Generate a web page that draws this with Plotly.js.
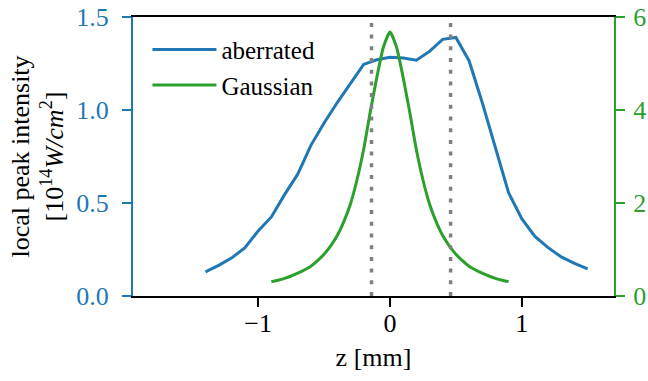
<!DOCTYPE html>
<html>
<head>
<meta charset="utf-8">
<script src="https://cdn.plot.ly/plotly-3.0.1.min.js"></script>
<style>
html,body{margin:0;padding:0;background:#fff;}
#chart{width:648px;height:381px;}
</style>
</head>
<body>
<div id="chart"></div>
<script>
// aberrated beam: local peak intensity [1e14 W/cm^2] (left axis)
const zAberrated = [-1.4,-1.3,-1.2,-1.1,-1.0,-0.9,-0.8,-0.7,-0.6,-0.5,-0.4,-0.3,-0.2,-0.1,0.0,0.1,0.2,0.3,0.4,0.5,0.6,0.7,0.8,0.9,1.0,1.1,1.2,1.3,1.4,1.5];
const iAberrated = [0.13,0.165,0.205,0.26,0.35,0.425,0.545,0.655,0.81,0.93,1.04,1.145,1.245,1.27,1.283,1.28,1.268,1.315,1.38,1.39,1.265,1.04,0.80,0.555,0.416,0.32,0.26,0.21,0.175,0.146];
// Gaussian beam (right axis)
const zGaussian = [-0.9,-0.85,-0.8,-0.75,-0.7,-0.65,-0.6,-0.55,-0.5,-0.45,-0.4,-0.35,-0.3,-0.25,-0.2,-0.15,-0.1,-0.05,0.0,0.05,0.1,0.15,0.2,0.25,0.3,0.35,0.4,0.45,0.5,0.55,0.6,0.65,0.7,0.75,0.8,0.85,0.9];
const iGaussian = [0.31,0.34,0.38,0.43,0.49,0.56,0.64,0.76,0.9,1.08,1.3,1.6,1.98,2.5,3.15,3.95,4.7,5.35,5.68,5.35,4.7,3.95,3.15,2.5,1.98,1.6,1.3,1.08,0.9,0.76,0.64,0.56,0.49,0.43,0.38,0.34,0.31];
// dotted markers
const zMarkers = [-0.14, 0.46];
const seriesNames = ['aberrated', 'Gaussian'];
const xTicks = [-1, 0, 1];
const yTicksLeft = [0, 0.5, 1.0, 1.5];
const yTicksRight = [0, 2, 4, 6];

const BLUE = '#1f77b4', GREEN = '#2ca02c';
const FONT = 'Liberation Serif';
const FS = 26;

const traces = [
  {x: zAberrated, y: iAberrated, type: 'scatter', mode: 'lines', name: seriesNames[0],
   line: {color: BLUE, width: 3}, yaxis: 'y', legendgroup: 'a'},
  {x: zGaussian, y: iGaussian, type: 'scatter', mode: 'lines', name: seriesNames[1],
   line: {color: GREEN, width: 3, shape: 'spline', smoothing: 0.5}, yaxis: 'y2', legendgroup: 'g'}
];

const shapes = zMarkers.map(z => ({
  type: 'line', xref: 'x', yref: 'paper', x0: z, x1: z, y0: 0, y1: 1,
  line: {color: '#808080', width: 3.5, dash: '4px,7.7px'}, layer: 'above'
}));

const layout = {
  width: 648, height: 381,
  margin: {l: 133, r: 34, t: 17, b: 85},
  paper_bgcolor: '#fff', plot_bgcolor: '#fff',
  font: {family: FONT, size: FS, color: '#000'},
  showlegend: true,
  legend: {x: 0.03, y: 0.965, xanchor: 'left', yanchor: 'top', bgcolor: 'rgba(0,0,0,0)',
           font: {family: FONT, size: 25}, tracegroupgap: 0, itemwidth: 64},
  xaxis: {range: [-1.95, 1.70], tickvals: xTicks, ticks: 'outside', ticklen: 9, tickwidth: 2,
          tickcolor: '#000', showline: true, linecolor: '#000', linewidth: 2, mirror: true,
          showgrid: false, zeroline: false, tickfont: {family: FONT, size: FS},
          ticklabelstandoff: -6,
          title: {text: 'z [mm]', font: {family: FONT, size: FS}, standoff: 11}},
  yaxis: {range: [0, 1.5], tickvals: yTicksLeft, tickformat: '.1f', ticks: 'outside', ticklen: 9,
          tickwidth: 2, tickcolor: BLUE, showline: true, linecolor: BLUE, linewidth: 2,
          showgrid: false, zeroline: false, tickfont: {family: FONT, size: FS, color: BLUE},
          ticklabelstandoff: 8,
          title: {text: 'local peak intensity<br>[10<sup>14</sup><i>W/cm</i><sup>2</sup>]',
                  font: {family: FONT, size: FS, color: '#000'}, standoff: 5}},
  yaxis2: {range: [0, 6], tickvals: yTicksRight, overlaying: 'y', side: 'right', ticks: 'outside',
           ticklen: 9, tickwidth: 2, tickcolor: GREEN, showline: true, linecolor: GREEN, linewidth: 2,
           showgrid: false, zeroline: false, tickfont: {family: FONT, size: FS, color: GREEN},
           ticklabelstandoff: 3},
  shapes: shapes
};

Plotly.newPlot('chart', traces, layout, {displayModeBar: false, staticPlot: true});
</script>
</body>
</html>
